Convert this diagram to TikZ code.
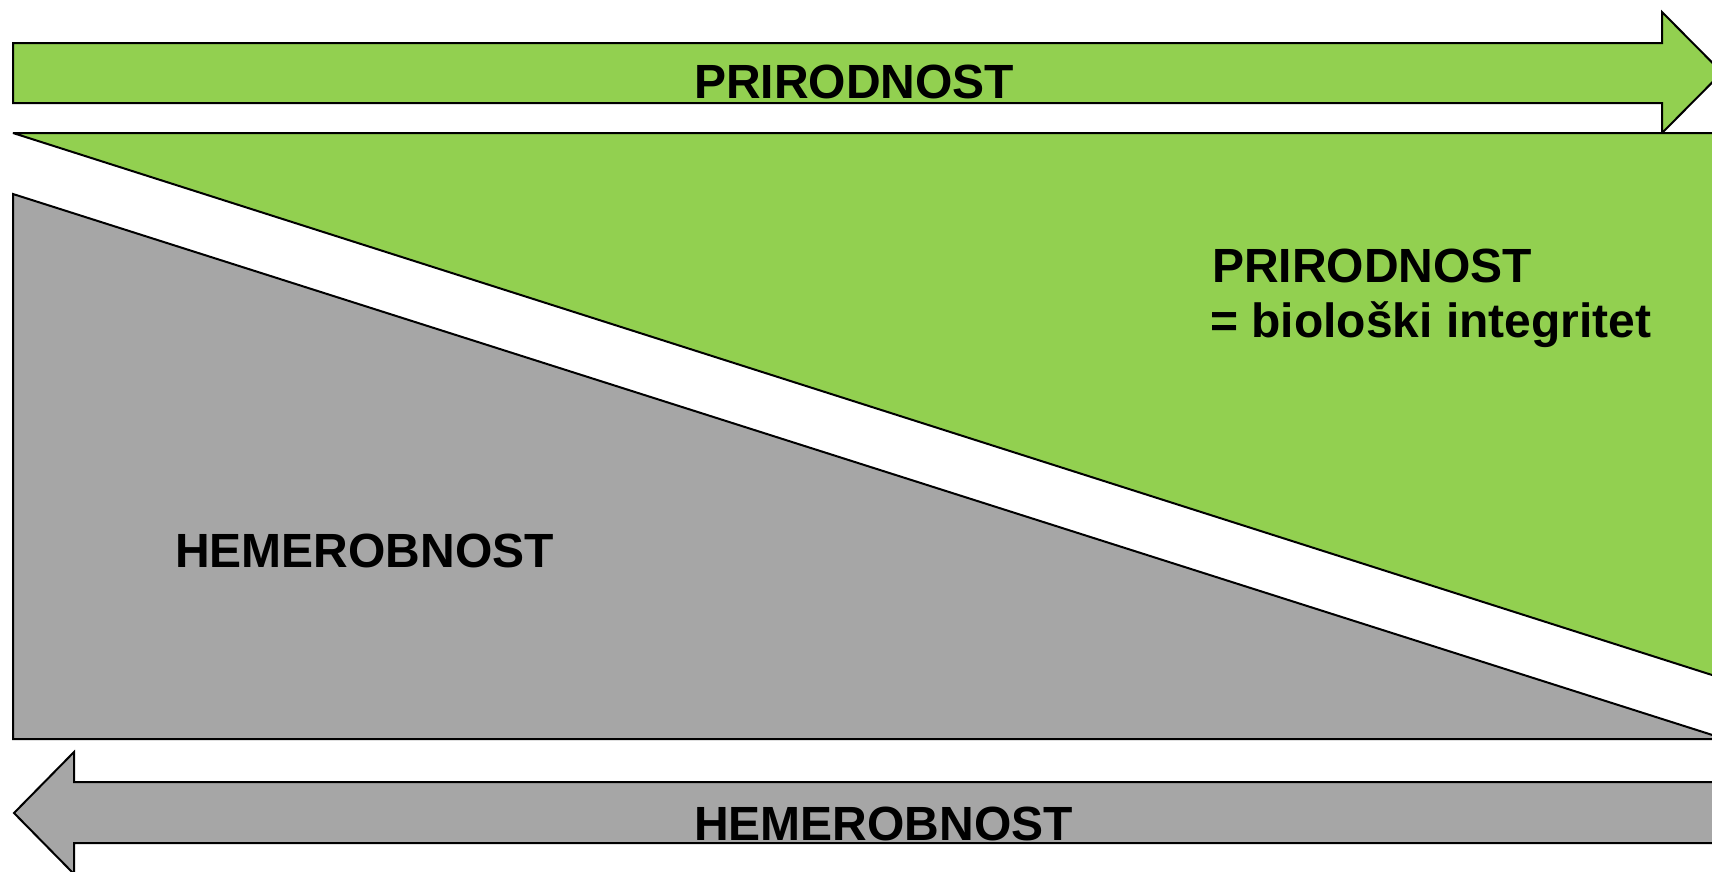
\documentclass[tikz,border=0pt]{standalone}
\usepackage{fontspec}
\setmainfont{Liberation Sans}
\definecolor{natgreen}{HTML}{92D050}
\definecolor{hemgray}{HTML}{A6A6A6}
\tikzset{
  shapeline/.style={draw=black, line width=2pt, line join=miter},
  lbl/.style={inner sep=0pt, anchor=base west, font=\fontsize{48}{57}\selectfont\bfseries, text=black}
}
\begin{document}
\begin{tikzpicture}[x=1pt,y=-1pt]
\useasboundingbox (0,0) rectangle (1712,871);
\clip (0,0) rectangle (1712,871);
% top arrow
\filldraw[shapeline, fill=natgreen] (13,43) -- (1662,43) -- (1662,12) -- (1722,72.5) -- (1662,133) -- (1662,103) -- (13,103) -- cycle;
% green triangle
\filldraw[shapeline, fill=natgreen, line join=bevel] (13,133) -- (1760,133) -- (1760,690.3) -- cycle;
% gray triangle
\filldraw[shapeline, fill=hemgray] (13,194) -- (1725,739) -- (13,739) -- cycle;
% bottom arrow
\filldraw[shapeline, fill=hemgray] (14,813) -- (74,752) -- (74,782) -- (1760,782) -- (1760,843) -- (74,843) -- (74,874) -- cycle;
% labels
\node[lbl] (ptop) at (694,98) {PRIRODNOST};
\node[lbl] (pgreen1) at (1212,282) {PRIRODNOST};
\node[lbl] (pgreen2) at (1210,337) {= biološki integritet};
\node[lbl] (hgray) at (175,567) {HEMEROBNOST};
\node[lbl] (hbottom) at (694,840) {HEMEROBNOST};
\end{tikzpicture}
\end{document}
